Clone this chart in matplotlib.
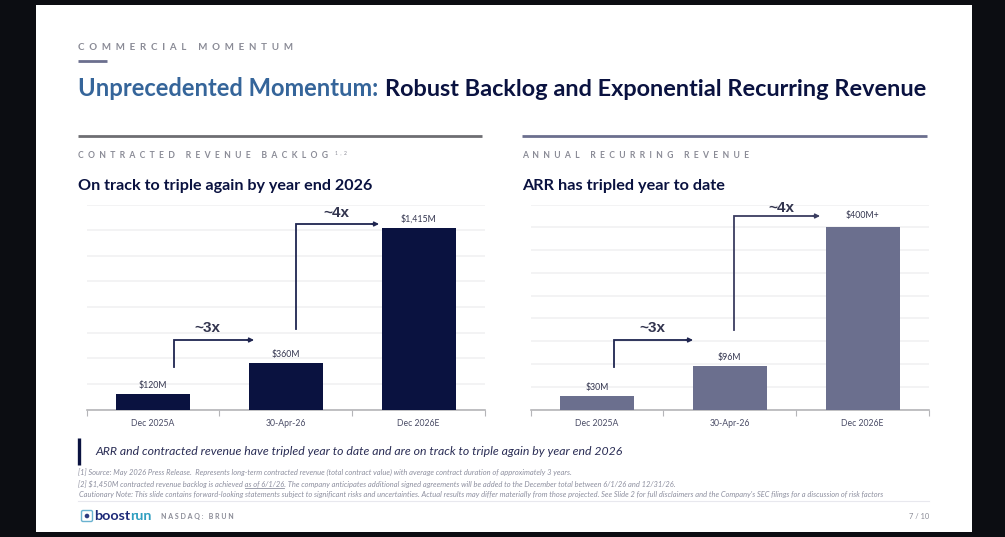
import matplotlib
matplotlib.use("Agg")
import matplotlib.pyplot as plt
from matplotlib.patches import Rectangle, FancyBboxPatch, Circle

# === DATA ===
categories = ["Dec 2025A", "30-Apr-26", "Dec 2026E"]
backlog_values = [120, 360, 1415]
backlog_labels = ["$120M", "$360M", "$1,415M"]
arr_values = [30, 96, 400]
arr_labels = ["$30M", "$96M", "$400M+"]

# === STYLE ===
W, H = 1005, 537
navy = "#0a1240"
slate = "#6b6f8e"
blue = "#35659a"
gray = "#8a8b96"
plt.rcParams["font.family"] = ["Lato", "DejaVu Sans"]

fig = plt.figure(figsize=(W / 100, H / 100), dpi=100, facecolor="#0c0d12")

# overlay in pixel coords for the slide stuff
bg = fig.add_axes([0, 0, 1, 1], zorder=0)
bg.set_xlim(0, W)
bg.set_ylim(H, 0)
bg.axis("off")
bg.add_patch(Rectangle((36, 5), 936, 527, color="white", lw=0))


def spaced(s, sep="  "):
    return sep.join(s)


# Header
bg.text(78, 48, spaced("COMMERCIAL MOMENTUM"), fontsize=7.0, color=gray, va="center", fontweight="bold")
bg.plot([78, 107], [61, 61], color=slate, lw=2, solid_capstyle="butt")
bg.text(78, 95.5, "Unprecedented Momentum:", fontsize=17.1, color=blue, va="baseline", fontweight="bold")
bg.text(385, 95.5, "Robust Backlog and Exponential Recurring Revenue", fontsize=16.9, color=navy, va="baseline", fontweight="bold")

# Panel headers
bg.plot([78, 482], [136, 136], color="#6e6e72", lw=2, solid_capstyle="butt")
bg.plot([522, 927], [136, 136], color=slate, lw=2, solid_capstyle="butt")
bg.text(78, 155, spaced("CONTRACTED REVENUE BACKLOG"), fontsize=6.2, color=gray, va="center", fontweight="bold")
bg.text(335, 153, "1  ,  2", fontsize=3.6, color=gray, va="center")
bg.text(522, 155, spaced("ANNUAL RECURRING REVENUE"), fontsize=6.2, color=gray, va="center", fontweight="bold")
bg.text(78, 186, "On track to triple again by year end 2026", fontsize=11.6, color=navy, va="center", fontweight="bold")
bg.text(522, 186, "ARR has tripled year to date", fontsize=11.7, color=navy, va="center", fontweight="bold")


# === CHARTS ===
def draw_chart(x0, x1, values, labels, color, ymax, step, top_pad=3):
    ax = fig.add_axes([x0 / W, 1 - 409.5 / H, (x1 - x0) / W, 205 / H], zorder=1)
    ax.patch.set_alpha(0)
    pos = range(len(values))
    ax.bar(pos, values, width=0.556, color=color, zorder=3)
    ax.set_xlim(-0.5, 2.5)
    ax.set_ylim(0, ymax)
    ax.set_yticks(range(0, ymax + 1, step))
    ax.tick_params(axis="y", length=0, labelleft=False)
    ax.grid(axis="y", color="#f1f1f2", lw=1.2, zorder=0)
    ax.set_xticks([-0.5, 0.5, 1.5, 2.5])
    ax.set_xticklabels([])
    ax.tick_params(axis="x", length=4, width=0.8, color="#b5b5b8", direction="out")
    ax.set_xticks(list(pos), categories, minor=True)
    ax.tick_params(axis="x", which="minor", length=0, labelsize=6.2, labelcolor="#4a4c66", pad=6.5)
    for sp in ["top", "left", "right"]:
        ax.spines[sp].set_visible(False)
    ax.spines["bottom"].set_color("#b5b5b8")
    ax.spines["bottom"].set_linewidth(1.2)
    for i, v in enumerate(values):
        # last label sits a bit higher on the ARR side
        pad = top_pad if i == len(values) - 1 else 3
        ax.annotate(labels[i], (i, v), xytext=(0, pad), textcoords="offset points",
                    ha="center", va="bottom", fontsize=6.3, color="#33354f")
    return ax


draw_chart(86.5, 485, backlog_values, backlog_labels, navy, 1600, 200)
draw_chart(530.5, 929, arr_values, arr_labels, slate, 450, 50, top_pad=5.5)


# === ARROWS (elbow callouts) ===
def elbow(x, y_bot, y_top, x_end, label, lx, ly, color):
    bg_top.plot([x, x, x_end - 6], [y_bot, y_top, y_top], color=color, lw=1.3, solid_joinstyle="miter")
    bg_top.annotate("", xy=(x_end, y_top), xytext=(x_end - 7, y_top),
                    arrowprops=dict(arrowstyle="-|>", color=color, lw=1, mutation_scale=7, shrinkA=0, shrinkB=0))
    bg_top.text(lx, ly, label, fontsize=11, fontweight="bold", color="#33354f", ha="center", va="center",
                family=["Liberation Sans", "DejaVu Sans"])


bg_top = fig.add_axes([0, 0, 1, 1], zorder=2)
bg_top.set_xlim(0, W)
bg_top.set_ylim(H, 0)
bg_top.axis("off")
elbow(174, 367, 340, 254, "~3x", 207, 328, "#1f2550")
elbow(296, 329, 224, 379, "~4x", 336, 213, "#1f2550")
elbow(614, 367, 340, 693, "~3x", 652, 328, "#1f2550")
elbow(733.5, 330, 216, 820, "~4x", 781, 208, "#3a3d60")

# === FOOTER ===
bg.plot([79, 79], [438, 465], color=navy, lw=2.4, solid_capstyle="butt")
bg.text(95, 451.5, "ARR and contracted revenue have tripled year to date and are on track to triple again by year end 2026",
        fontsize=8.8, style="italic", color="#2a2d55", va="center")
note_color = "#8d8f9f"
bg.text(78, 472, "[1] Source: May 2026 Press Release.  Represents long-term contracted revenue (total contract value) with average contract duration of approximately 3 years.",
        fontsize=5.45, style="italic", color=note_color, va="center")
bg.text(78, 484, "[2] $1,450M contracted revenue backlog is achieved as of 6/1/26. The company anticipates additional signed agreements will be added to the December total between 6/1/26 and 12/31/26.",
        fontsize=5.45, style="italic", color=note_color, va="center")
bg.plot([245, 284], [488, 488], color=note_color, lw=0.6)
bg.text(79, 495, "Cautionary Note: This slide contains forward-looking statements subject to significant risks and uncertainties. Actual results may differ materially from those projected. See Slide 2 for full disclaimers and the Company's SEC filings for a discussion of risk factors",
        fontsize=5.45, style="italic", color=note_color, va="center")
bg.plot([78, 929], [500.5, 500.5], color="#e8e8ee", lw=0.8)

# logo
bg.add_patch(FancyBboxPatch((83, 512), 8, 8, boxstyle="round,pad=1.5", fc="white", ec="#6ab2d0", lw=1))
bg.add_patch(Circle((87, 516), 1.6, color="#2b3a80"))
bg.text(94.5, 515.5, "boost", fontsize=10.3, fontweight="bold", color="#1d2a78", va="center")
bg.text(130, 515.5, "run", fontsize=10.3, color="#2f9fc0", va="center", fontweight="bold")
bg.text(161, 516.5, spaced("NASDAQ: BRUN", " "), fontsize=5, color=gray, va="center", fontweight="bold")
bg.text(929, 516.5, "7 / 10", fontsize=5.4, color=gray, va="center", ha="right")

# === RENDER ===
fig.savefig("out.png", dpi=100, facecolor=fig.get_facecolor())
